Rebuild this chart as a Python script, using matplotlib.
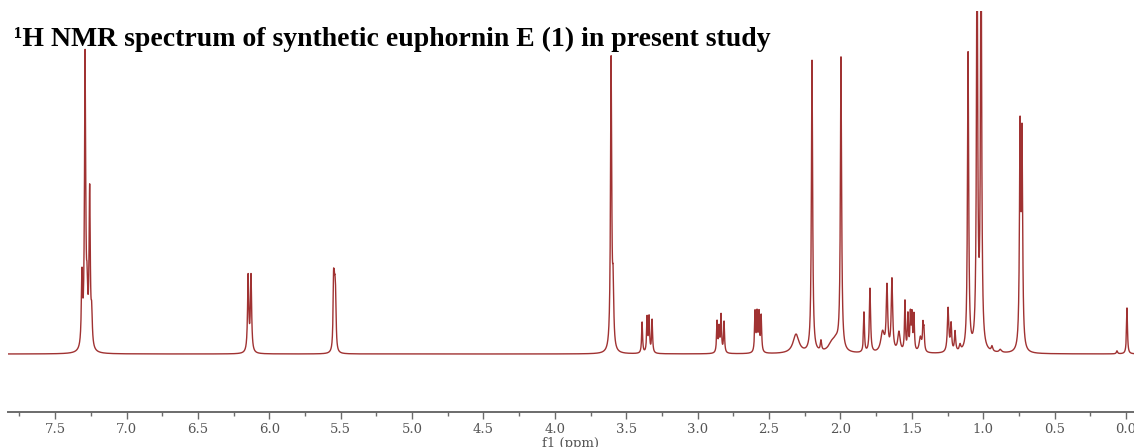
import numpy as np
import matplotlib
matplotlib.use("Agg")
import matplotlib.pyplot as plt
from matplotlib.ticker import MultipleLocator

# peak table: shift (ppm), height (arbitrary), half width (ppm)
shifts = [7.312, 7.290, 7.276, 7.258, 7.244,
          6.148, 6.128,
          5.550, 5.545, 5.540, 5.535,
          3.606, 3.592,
          3.389, 3.354, 3.340, 3.319,
          2.864, 2.850, 2.836, 2.815,
          2.598, 2.584, 2.570, 2.555,
          2.311, 2.199, 2.136, 2.060, 2.030, 1.996,
          1.835, 1.793, 1.705, 1.674, 1.639, 1.590, 1.548, 1.527, 1.510, 1.499, 1.485,
          1.440, 1.422, 1.415,
          1.246, 1.225, 1.197, 1.162,
          1.106, 1.043, 1.015, 0.938, 0.880,
          0.742, 0.728,
          0.063, -0.007]
heights = [70, 292, 45, 156, 30,
           76, 76,
           60, 40, 40, 40,
           292, 55,
           31, 35, 35, 33,
           31, 24, 37, 31,
           40, 38, 38, 36,
           19, 292, 10, 8, 9, 292,
           40, 64, 20, 64, 72, 20, 50, 36, 36, 35, 36,
           15, 24, 20,
           44, 27, 20, 6,
           298, 420, 420, 5, 3,
           214, 206,
           3, 46]
widths = [0.005, 0.005, 0.005, 0.005, 0.005,
          0.005, 0.005,
          0.004, 0.004, 0.004, 0.004,
          0.005, 0.005,
          0.004, 0.004, 0.004, 0.004,
          0.004, 0.004, 0.004, 0.004,
          0.004, 0.004, 0.004, 0.004,
          0.025, 0.005, 0.005, 0.030, 0.025, 0.005,
          0.004, 0.005, 0.015, 0.006, 0.006, 0.010, 0.004, 0.004, 0.004, 0.004, 0.004,
          0.010, 0.004, 0.004,
          0.006, 0.005, 0.005, 0.006,
          0.005, 0.005, 0.005, 0.006, 0.010,
          0.005, 0.005,
          0.005, 0.004]

major_ticks = [7.5, 7.0, 6.5, 6.0, 5.5, 5.0, 4.5, 4.0, 3.5, 3.0, 2.5, 2.0, 1.5, 1.0, 0.5, 0.0]
tick_labels = ["7.5", "7.0", "6.5", "6.0", "5.5", "5.0", "4.5", "4.0",
               "3.5", "3.0", "2.5", "2.0", "1.5", "1.0", "0.5", "0.0"]

# build the spectrum from the peak table (lorentzian lines)
ppm = np.linspace(-0.1, 7.9, 60000)
spec = np.zeros_like(ppm)
for s, h, w in zip(shifts, heights, widths):
    spec += h * w**2 / ((ppm - s)**2 + w**2)

fig = plt.figure(figsize=(11.34, 4.47), dpi=100)
ax = fig.add_axes([8/1134, 35/447, 1 - 8/1134, 401/447])

ax.plot(ppm, spec, color="#a03232", linewidth=1.0)

ax.set_xlim(7.83, -0.056)
ax.set_ylim(-58, 343)

for side in ["top", "left", "right"]:
    ax.spines[side].set_visible(False)
ax.spines["bottom"].set_color("#6b6b6b")
ax.spines["bottom"].set_linewidth(1.4)
ax.set_yticks([])

ax.set_xticks(major_ticks)
ax.set_xticklabels(tick_labels, fontsize=9.5, family="DejaVu Serif", color="#555555")
ax.xaxis.set_minor_locator(MultipleLocator(0.25))
ax.tick_params(axis="x", which="major", length=5, width=1, color="#6b6b6b", pad=3)
ax.tick_params(axis="x", which="minor", length=3, width=1, color="#6b6b6b")

# the label sits at the bottom edge, cut like in the source image
ax.set_xlabel("f1 (ppm)", fontsize=9.5, family="DejaVu Serif", color="#555555", labelpad=1)

fig.text(14/1134, 1 - 39/447, "\u00b9H NMR spectrum of synthetic euphornin E (1) in present study",
         fontsize=20, family="Liberation Serif", fontweight="bold", va="center", ha="left")

fig.savefig("out.png", dpi=100)
